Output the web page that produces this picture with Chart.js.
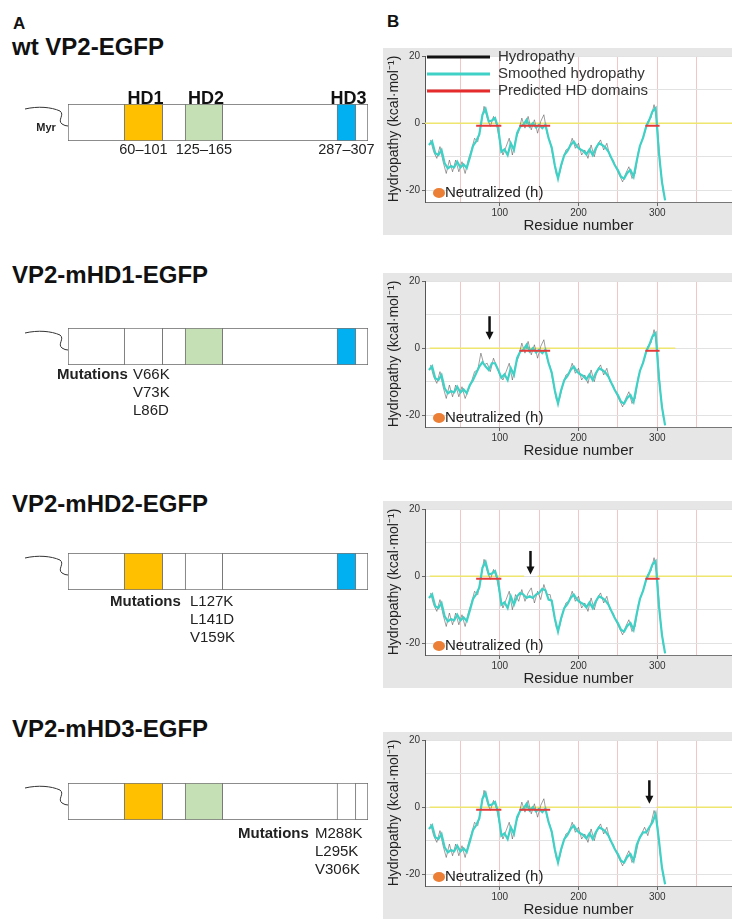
<!DOCTYPE html>
<html>
<head>
<meta charset="utf-8">
<script src="https://cdn.jsdelivr.net/npm/chart.js@4.4.1/dist/chart.umd.min.js"></script>
<style>
  body { margin: 0; width: 732px; height: 921px; overflow: hidden; background: #fff; position: relative;
         font-family: 'Liberation Sans', Arial, sans-serif; color: #111; }
  .abs { position: absolute; line-height: 1; white-space: nowrap; }
  .panel { position: absolute; left: 383px; width: 349px; height: 187px; background: #e6e6e6; }
  .title { left: 12px; font-size: 24px; font-weight: bold; }
  .mut { font-size: 15px; color: #222; }
</style>
</head>
<body>
<div class="abs" style="left:13px;top:15px;font-size:17px;font-weight:bold">A</div>
<div class="abs" style="left:387px;top:13px;font-size:17px;font-weight:bold">B</div>
<div id="left"></div>
<div id="right"></div>

<script>
// ---------- constructs (panel A) ----------
const constructEnd = 320;
const domainNames = ['HD1', 'HD2', 'HD3'];
const domainStart = [60, 125, 287];
const domainEnd = [101, 165, 307];
const domainColors = ['#ffc000', '#c5e0b4', '#00b0f0'];

const constructNames = ['wt VP2-EGFP', 'VP2-mHD1-EGFP', 'VP2-mHD2-EGFP', 'VP2-mHD3-EGFP'];
const mutatedDomain = [null, 0, 1, 2];
const mutations = [[], ['V66K', 'V73K', 'L86D'], ['L127K', 'L141D', 'V159K'], ['M288K', 'L295K', 'V306K']];

// ---------- hydropathy profiles (panel B) ----------
const smoothResidues = [10, 14, 18, 22, 26, 30, 34, 38, 42, 46, 50, 54, 58, 62, 66, 70, 74, 78, 82, 86,
  90, 94, 98, 102, 106, 110, 114, 118, 122, 126, 130, 134, 138, 142, 146, 150, 154, 158, 162, 166,
  170, 174, 178, 182, 186, 190, 194, 198, 202, 206, 210, 214, 218, 222, 226, 230, 234, 238, 242, 246,
  250, 254, 258, 262, 266, 270, 274, 278, 282, 286, 290, 294, 298, 302, 306, 310];
const wtSmooth = [-6.5, -5.4, -9.0, -9.5, -8.0, -12.0, -13.5, -12.8, -13.2, -11.5,
  -13.2, -12.3, -13.4, -10.2, -6.8, -5.4, -3.4, 2.5, 4.2, 0.5,
  0.8, 1.5, -1.5, -8.5, -7.8, -9.5, -6.0, -8.0, -3.0, -1.0,
  -0.5, 1.0, -1.0, 0.0, -1.3, -0.5, -1.5, -0.5, -4.5, -7.3,
  -12.7, -16.5, -12.5, -9.5, -8.3, -6.5, -5.5, -7.0, -7.8, -8.3,
  -9.3, -7.8, -9.5, -7.5, -6.0, -6.5, -7.2, -8.5, -10.5, -12.5,
  -14.0, -16.0, -16.5, -14.8, -14.0, -16.0, -11.2, -6.8, -4.4, -1.0,
  1.0, 3.5, 4.5, -8.5, -17.5, -23.0];

const rawResidues = [12, 16, 20, 24, 28, 32, 36, 40, 44, 48, 52, 56, 60, 64, 68, 72, 76, 80, 84, 88,
  92, 96, 100, 104, 108, 112, 116, 120, 124, 128, 132, 136, 140, 144, 148, 152, 156, 160, 164, 168,
  172, 176, 180, 184, 188, 192, 196, 200, 204, 208, 212, 216, 220, 224, 228, 232, 236, 240, 244, 248,
  252, 256, 260, 264, 268, 272, 276, 280, 284, 288, 292, 296, 300, 304, 308];
const wtRaw = [-5.0, -8.5, -10.5, -7.0, -11.5, -15.0, -11.0, -14.5, -11.0, -14.5,
  -11.5, -15.0, -11.0, -8.0, -4.5, -5.5, -0.5, 5.0, 1.5, -1.0,
  2.0, -0.5, -5.5, -9.5, -7.0, -4.5, -9.5, -5.0, -2.5, 1.5,
  -1.5, 2.0, -2.0, 1.0, -3.0, 0.5, 2.5, -3.0, -5.5, -10.5,
  -15.5, -15.0, -11.0, -8.0, -7.5, -4.5, -7.5, -6.0, -9.5, -8.0,
  -10.5, -6.5, -10.0, -6.5, -5.0, -8.0, -6.0, -10.0, -11.0, -13.5,
  -15.5, -17.5, -15.0, -13.0, -16.5, -15.0, -8.5, -5.5, -3.0, 0.5,
  1.5, 5.5, 0.0, -13.0, -21.0];

// stretches where the mutant profiles differ from wt
const mhd1SmoothRes = [62, 66, 70, 74, 78, 82, 86, 90, 94, 98, 102];
const mhd1Smooth = [-11.0, -9.5, -7.5, -5.5, -4.2, -5.5, -6.5, -4.5, -4.5, -6.5, -8.8];
const mhd1RawRes = [60, 64, 68, 72, 76, 80, 84, 88, 92, 96, 100];
const mhd1Raw = [-12.5, -10.0, -7.0, -6.5, -1.5, -5.0, -4.5, -7.0, -3.0, -5.5, -8.0];

const mhd2SmoothRes = [118, 122, 126, 130, 134, 138, 142, 146, 150, 154, 158, 162];
const mhd2Smooth = [-8.5, -6.0, -5.0, -5.5, -6.5, -6.0, -6.5, -5.5, -5.0, -3.8, -4.2, -7.0];
const mhd2RawRes = [116, 120, 124, 128, 132, 136, 140, 144, 148, 152, 156, 160];
const mhd2Raw = [-10.0, -5.5, -7.5, -4.0, -7.5, -5.0, -3.5, -8.0, -4.5, -7.0, -2.5, -5.5];

const mhd3SmoothRes = [278, 282, 286, 290, 294, 298, 302, 306, 310];
const mhd3Smooth = [-9.0, -7.5, -7.5, -6.0, -4.5, -2.0, -9.5, -18.0, -23.0];
const mhd3RawRes = [276, 280, 284, 288, 292, 296, 300, 304, 308];
const mhd3Raw = [-10.5, -8.0, -6.0, -8.5, -5.0, -1.0, -4.5, -14.5, -21.0];

const hdLevel = -0.8;
const hdSpans = [[70, 102], [125, 164], [285, 303]];
const hdShown = [[0, 1, 2], [1, 2], [0, 2], [0, 1]];
const zeroSpans = [[[5, 395]], [[11, 323]], [[11, 131], [148, 395]], [[11, 279], [299, 395]]];
const arrows = [null, { x: 87, from: 9.5, to: 2.5 }, { x: 139, from: 7.5, to: 0.5 }, { x: 290, from: 8.0, to: 1.0 }];

const xGrid = [50, 100, 150, 200, 250, 300, 350];
const xTickLabels = [100, 200, 300];
const yGrid = [-20, -10, 0, 10, 20];
const yTickLabels = [-20, 0, 20];

// ---------- layout ----------
const FONT = "'Liberation Sans', Arial, sans-serif";
const titleTops = [35, 263, 492, 717];
const barTops = [104, 328, 553, 783];
const mutLabelLeft = [0, 57, 110, 238];
const mutListLeft = [0, 133, 190, 315];
const mutTops = [0, 366, 593, 825];
const panelTops = [48, 273, 501, 732];

Chart.defaults.font.family = FONT;
Chart.defaults.animation = false;

// ---------- panel A ----------
function constructDecor(row) {
  return {
    id: 'constructDecor',
    afterDatasetsDraw(chart) {
      const ctx = chart.ctx, a = chart.chartArea, xs = chart.scales.x;
      const x0 = a.left, y0 = a.top;
      ctx.save();
      ctx.strokeStyle = '#333';
      ctx.lineWidth = 1;
      ctx.beginPath();
      ctx.moveTo(x0 - 43, y0 + 5);
      ctx.bezierCurveTo(x0 - 30, y0 + 2, x0 - 17, y0 + 3, x0 - 8, y0 + 7);
      ctx.bezierCurveTo(x0 - 3, y0 + 11, x0 - 11, y0 + 16, x0 - 6, y0 + 20);
      ctx.quadraticCurveTo(x0 - 3, y0 + 22, x0, y0 + 22);
      ctx.stroke();
      if (row === 0) {
        ctx.fillStyle = '#222';
        ctx.textAlign = 'center';
        ctx.textBaseline = 'middle';
        ctx.font = 'bold 11px ' + FONT;
        ctx.fillText('Myr', x0 - 22, y0 + 24);
        for (let i = 0; i < domainNames.length; i++) {
          const cx = (xs.getPixelForValue(domainStart[i]) + xs.getPixelForValue(domainEnd[i])) / 2;
          ctx.font = 'bold 18px ' + FONT;
          ctx.textBaseline = 'alphabetic';
          ctx.fillStyle = '#111';
          ctx.fillText(domainNames[i], cx + 2, a.top);
          ctx.font = '14.5px ' + FONT;
          ctx.textBaseline = 'middle';
          ctx.fillStyle = '#222';
          ctx.fillText(domainStart[i] + '\u2013' + domainEnd[i], cx, a.bottom + 9);
        }
      }
      ctx.restore();
    }
  };
}

const left = document.getElementById('left');
constructNames.forEach((name, row) => {
  const t = document.createElement('div');
  t.className = 'abs title';
  t.style.top = titleTops[row] + 'px';
  t.textContent = name;
  left.appendChild(t);

  const wrap = document.createElement('div');
  wrap.style.cssText = 'position:absolute;left:0;top:' + (barTops[row] - 24) + 'px;width:380px;height:85px';
  const cv = document.createElement('canvas');
  cv.width = 380; cv.height = 85;
  wrap.appendChild(cv);
  left.appendChild(wrap);

  const datasets = domainNames.map((d, i) => ({
    label: d,
    data: [[domainStart[i], domainEnd[i]]],
    backgroundColor: mutatedDomain[row] === i ? '#ffffff' : domainColors[i],
    borderColor: '#777',
    borderWidth: 1,
    borderSkipped: false,
    grouped: false,
    barPercentage: 1,
    categoryPercentage: 1
  }));
  datasets.push({
    label: 'VP2',
    data: [[0, constructEnd]],
    backgroundColor: '#ffffff',
    borderColor: '#666',
    borderWidth: 1,
    borderSkipped: false,
    grouped: false,
    barPercentage: 1,
    categoryPercentage: 1
  });

  new Chart(cv, {
    type: 'bar',
    data: { labels: [name], datasets: datasets },
    options: {
      indexAxis: 'y',
      responsive: false,
      layout: { padding: { left: 68, right: 12, top: 24, bottom: 24 } },
      scales: {
        x: { display: false, min: 0, max: constructEnd },
        y: { display: false }
      },
      plugins: { legend: { display: false }, tooltip: { enabled: false } }
    },
    plugins: [constructDecor(row)]
  });

  if (mutations[row].length) {
    const lab = document.createElement('div');
    lab.className = 'abs mut';
    lab.style.cssText = 'left:' + mutLabelLeft[row] + 'px;top:' + mutTops[row] + 'px;font-weight:bold';
    lab.textContent = 'Mutations';
    left.appendChild(lab);
    mutations[row].forEach((m, j) => {
      const e = document.createElement('div');
      e.className = 'abs mut';
      e.style.cssText = 'left:' + mutListLeft[row] + 'px;top:' + (mutTops[row] + j * 18) + 'px';
      e.textContent = m;
      left.appendChild(e);
    });
  }
});

// ---------- panel B ----------
function withSegment(baseRes, baseVals, segRes, segVals) {
  return baseRes.map((r, i) => {
    const j = segRes.indexOf(r);
    return { x: r, y: j >= 0 ? segVals[j] : baseVals[i] };
  });
}
function spansToPoints(spans, level) {
  const pts = [];
  spans.forEach(s => {
    pts.push({ x: s[0], y: level }, { x: s[1], y: level }, { x: s[1], y: null });
  });
  return pts;
}

const profiles = [
  { smooth: withSegment(smoothResidues, wtSmooth, [], []), raw: withSegment(rawResidues, wtRaw, [], []) },
  { smooth: withSegment(smoothResidues, wtSmooth, mhd1SmoothRes, mhd1Smooth), raw: withSegment(rawResidues, wtRaw, mhd1RawRes, mhd1Raw) },
  { smooth: withSegment(smoothResidues, wtSmooth, mhd2SmoothRes, mhd2Smooth), raw: withSegment(rawResidues, wtRaw, mhd2RawRes, mhd2Raw) },
  { smooth: withSegment(smoothResidues, wtSmooth, mhd3SmoothRes, mhd3Smooth), raw: withSegment(rawResidues, wtRaw, mhd3RawRes, mhd3Raw) }
];

function hydroDecor(k) {
  return {
    id: 'hydroDecor',
    beforeDraw(chart) {
      const a = chart.chartArea, ctx = chart.ctx;
      ctx.save();
      ctx.fillStyle = '#ffffff';
      ctx.fillRect(a.left, a.top, a.right - a.left, a.bottom - a.top);
      ctx.restore();
    },
    afterDraw(chart) {
      const a = chart.chartArea, ctx = chart.ctx;
      const xs = chart.scales.x, ys = chart.scales.y;
      ctx.save();
      // arrow marking the neutralised stretch
      const ar = arrows[k];
      if (ar) {
        const px = xs.getPixelForValue(ar.x);
        const y1 = ys.getPixelForValue(ar.from), y2 = ys.getPixelForValue(ar.to);
        ctx.strokeStyle = '#111';
        ctx.fillStyle = '#111';
        ctx.lineWidth = 2.5;
        ctx.beginPath();
        ctx.moveTo(px, y1);
        ctx.lineTo(px, y2 - 7);
        ctx.stroke();
        ctx.beginPath();
        ctx.moveTo(px - 4, y2 - 8);
        ctx.lineTo(px + 4, y2 - 8);
        ctx.lineTo(px, y2);
        ctx.closePath();
        ctx.fill();
      }
      // "Neutralized (h)" key
      ctx.fillStyle = '#ea7f35';
      ctx.beginPath();
      ctx.ellipse(a.left + 14, a.bottom - 9, 6, 5, 0, 0, Math.PI * 2);
      ctx.fill();
      ctx.fillStyle = '#222';
      ctx.font = '15px ' + FONT;
      ctx.textAlign = 'left';
      ctx.textBaseline = 'middle';
      ctx.fillText('Neutralized (h)', a.left + 20, a.bottom - 9);
      // legend on the first profile
      if (k === 0) {
        const items = [['Hydropathy', '#111'], ['Smoothed hydropathy', '#3fd0c6'], ['Predicted HD domains', '#e52b2b']];
        items.forEach((it, i) => {
          const y = a.top + 1 + i * 17;
          ctx.strokeStyle = it[1];
          ctx.lineWidth = 3;
          ctx.beginPath();
          ctx.moveTo(a.left + 2, y);
          ctx.lineTo(a.left + 65, y);
          ctx.stroke();
          ctx.fillStyle = '#333';
          ctx.fillText(it[0], a.left + 73, y);
        });
      }
      ctx.restore();
    }
  };
}

const right = document.getElementById('right');
profiles.forEach((p, k) => {
  const panel = document.createElement('div');
  panel.className = 'panel';
  panel.style.top = panelTops[k] + 'px';
  const cv = document.createElement('canvas');
  cv.width = 349; cv.height = 187;
  panel.appendChild(cv);
  right.appendChild(panel);

  const hd = hdShown[k].map(i => hdSpans[i]);

  new Chart(cv, {
    type: 'line',
    data: {
      datasets: [
        { label: 'Predicted HD domains', data: spansToPoints(hd, hdLevel), borderColor: '#e53a3a', borderWidth: 2, pointRadius: 0, spanGaps: false },
        { label: 'Smoothed hydropathy', data: p.smooth, borderColor: '#3fd0c6', borderWidth: 2.2, pointRadius: 0, tension: 0 },
        { label: 'Hydropathy', data: p.raw, borderColor: 'rgba(80,80,80,0.55)', borderWidth: 1, pointRadius: 0, tension: 0 },
        { label: 'zero', data: spansToPoints(zeroSpans[k], 0), borderColor: '#eee66e', borderWidth: 1.5, pointRadius: 0, spanGaps: false }
      ]
    },
    options: {
      responsive: false,
      layout: { padding: { top: 5, left: 0, right: 0, bottom: 0 } },
      scales: {
        x: {
          type: 'linear', min: 5, max: 395,
          afterBuildTicks: s => { s.ticks = xGrid.map(v => ({ value: v })); },
          afterFit: s => { s.height = 33; },
          ticks: {
            autoSkip: false, maxRotation: 0, padding: 1, color: '#333', font: { size: 10 },
            callback: v => xTickLabels.includes(v) ? String(v) : ''
          },
          grid: {
            color: '#f2c6c6', lineWidth: 1, tickLength: 4,
            tickColor: c => (c.tick && xTickLabels.includes(c.tick.value)) ? '#666' : 'rgba(0,0,0,0)'
          },
          border: { color: '#777', width: 1 },
          title: { display: true, text: 'Residue number', color: '#222', font: { size: 15, lineHeight: 1 }, padding: { top: 0, bottom: 2 } }
        },
        y: {
          min: -23.5, max: 20,
          afterBuildTicks: s => { s.ticks = yGrid.map(v => ({ value: v })); },
          afterFit: s => { s.width = 42; },
          ticks: {
            padding: 2, color: '#333', font: { size: 10 },
            callback: v => yTickLabels.includes(v) ? String(v) : ''
          },
          grid: {
            color: '#e2e2e2', lineWidth: 1, tickLength: 3,
            tickColor: c => (c.tick && yTickLabels.includes(c.tick.value)) ? '#666' : 'rgba(0,0,0,0)'
          },
          border: { color: '#555', width: 1 },
          title: { display: true, text: 'Hydropathy (kcal\u00b7mol\u207b\u00b9)', color: '#222', font: { size: 14 }, padding: 3 }
        }
      },
      plugins: { legend: { display: false }, tooltip: { enabled: false } }
    },
    plugins: [hydroDecor(k)]
  });
});
</script>
</body>
</html>
